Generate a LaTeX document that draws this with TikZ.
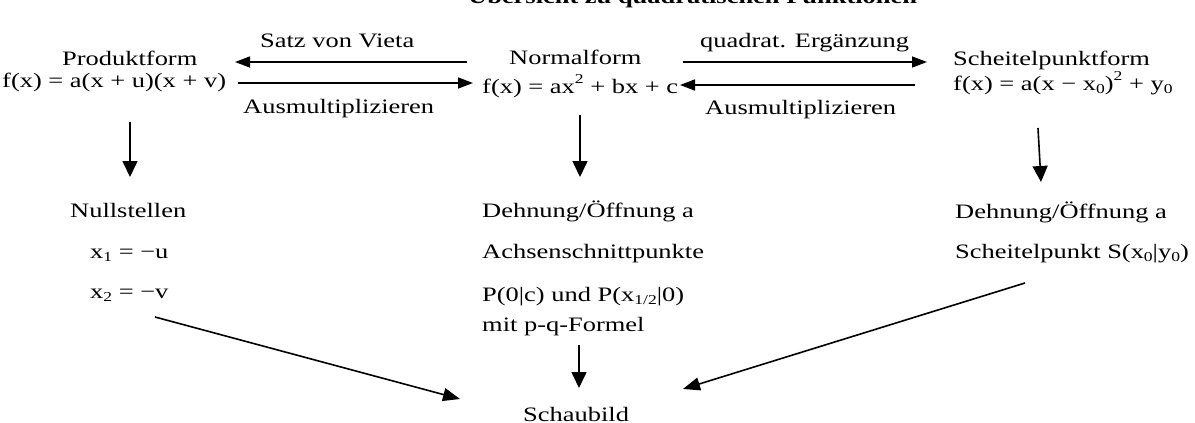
\documentclass[tikz,border=0pt]{standalone}
\usepackage{fontspec}
\setmainfont{Liberation Serif}[FakeStretch=1.29]
\usetikzlibrary{arrows.meta}
\newcommand\lo[1]{\raisebox{-0.16em}{\fontsize{13.6}{13.6}\selectfont #1}}
\newcommand\hi[1]{\raisebox{0.44em}{\fontsize{13.6}{13.6}\selectfont #1}}
\begin{document}
\begin{tikzpicture}[x=1pt,y=-1pt,
  txt/.style={inner sep=0pt, anchor=base west, font=\fontsize{20.5}{23}\selectfont},
  conn/.style={line width=1.6pt},
  harr/.style={conn,-{Triangle[length=15pt,width=11pt]}},
  varr/.style={conn,-{Triangle[length=16pt,width=15pt]}},
  darr/.style={conn,-{Triangle[length=17pt,width=13pt]}}]
\useasboundingbox (0,0) rectangle (1195,423);
% title (clipped at top, as in the original)
\node[txt, font=\fontsize{20.5}{23}\selectfont\bfseries] (title) at (468,4) {Übersicht zu quadratischen Funktionen};
% top row
\node[txt] (satz)  at (260,47)  {Satz von Vieta};
\node[txt] (quad)  at (700,47)  {quadrat. Ergänzung};
\node[txt] (prodT) at (62,65)   {Produktform};
\node[txt] (prodF) at (2,87)    {f(x) = a(x + u)(x + v)};
\node[txt] (normT) at (509,64)  {Normalform};
\node[txt] (normF) at (482,93)  {f(x) = ax\hi{2} + bx + c};
\node[txt] (scT)   at (953,65)  {Scheitelpunktform};
\node[txt] (scF)   at (953,90)  {f(x) = a(x − x\lo{0})\hi{2} + y\lo{0}};
\node[txt] (ausL)  at (243,113) {Ausmultiplizieren};
\node[txt] (ausR)  at (705,114) {Ausmultiplizieren};
% middle rows
\node[txt] (nullT) at (70,217)  {Nullstellen};
\node[txt] (xone)  at (90,258)  {x\lo{1} = −u};
\node[txt] (xtwo)  at (90,298)  {x\lo{2} = −v};
\node[txt] (dehM)  at (482,217) {Dehnung/Öffnung a};
\node[txt] (achs)  at (482,258) {Achsenschnittpunkte};
\node[txt] (ppt)   at (482,301) {P(0|c) und P(x\lo{1/2}|0)};
\node[txt] (mitpq) at (482,331) {mit p-q-Formel};
\node[txt] (dehR)  at (955,218) {Dehnung/Öffnung a};
\node[txt] (scS)   at (955,258) {Scheitelpunkt S(x\lo{0}|y\lo{0})};
\node[txt] (schau) at (523,421) {Schaubild};
% horizontal arrows
\draw[harr] ([shift={(-15,-31)}]normF.base west) -- ([shift={(233,-25)}]prodF.base west);
\draw[harr] ([shift={(236,-4)}]prodF.base west) -- ([shift={(-9,-10)}]normF.base west);
\draw[harr] ([shift={(201,-31)}]normF.base west) -- ([shift={(-26,-28)}]scF.base west);
\draw[harr] ([shift={(-38,-5)}]scF.base west) -- ([shift={(198,-8)}]normF.base west);
% vertical arrows
\draw[varr] ([shift={(128,35)}]prodF.base west) -- ([shift={(60,-40)}]nullT.base west);
\draw[varr] ([shift={(98,22)}]normF.base west) -- ([shift={(98,-40)}]dehM.base west);
\draw[varr] ([shift={(85,38)}]scF.base west) -- ([shift={(86,-36)}]dehR.base west);
\draw[varr] ([shift={(97,14)}]mitpq.base west) -- ([shift={(56,-33)}]schau.base west);
% diagonal arrows
\draw[darr] ([shift={(65,19)}]xtwo.base west) -- ([shift={(-63,-22)}]schau.base west);
\draw[darr] ([shift={(70,25)}]scS.base west) -- ([shift={(160,-32)}]schau.base west);
\end{tikzpicture}
\end{document}
